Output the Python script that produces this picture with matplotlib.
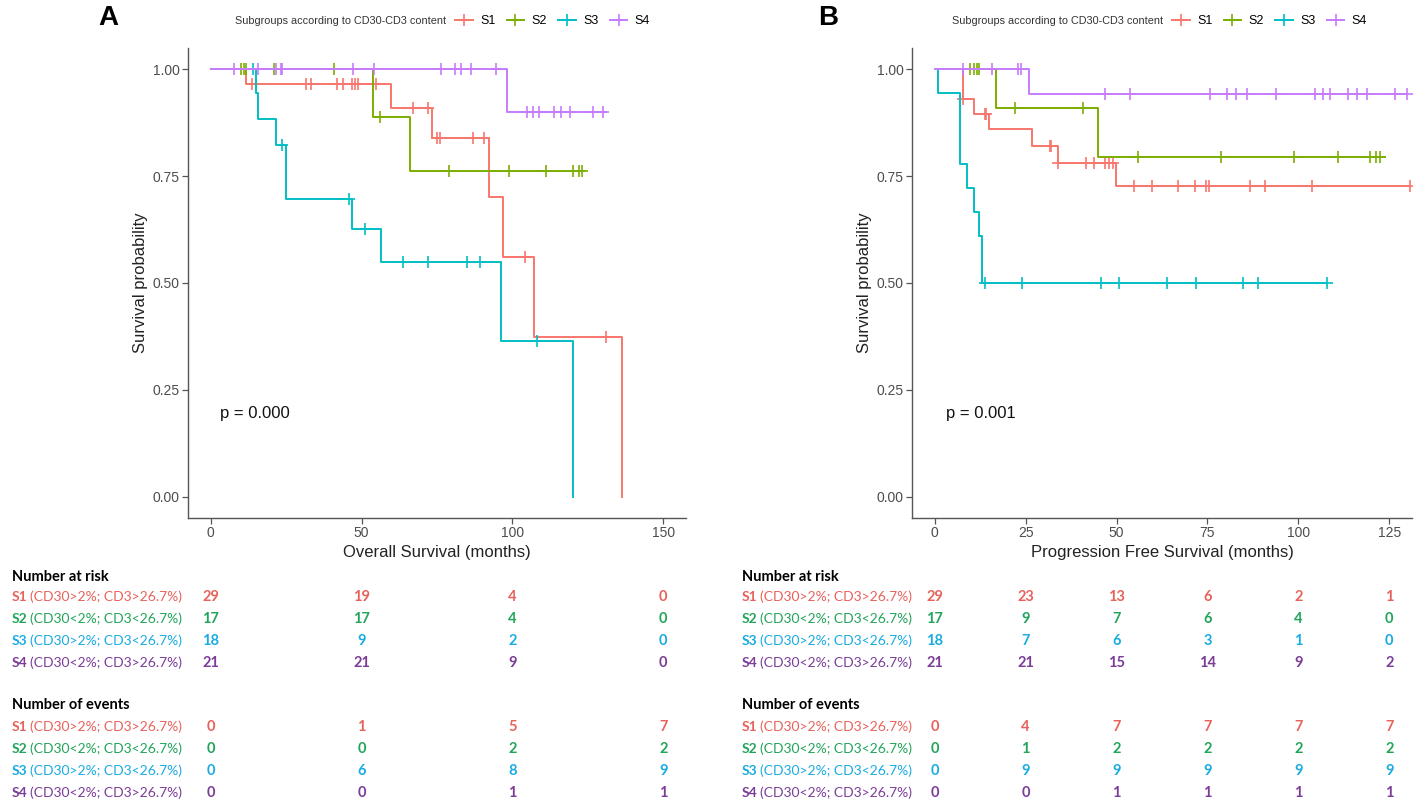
import numpy as np
import matplotlib.pyplot as plt
from matplotlib.transforms import blended_transform_factory
from matplotlib.lines import Line2D

groups = ["S1", "S2", "S3", "S4"]
row_labels = ["(CD30>2%; CD3>26.7%)", "(CD30<2%; CD3<26.7%)",
              "(CD30>2%; CD3<26.7%)", "(CD30<2%; CD3>26.7%)"]
curve_colors = ["#F8766D", "#7CAE00", "#00BFC4", "#C77CFF"]
table_colors = ["#E8625C", "#22A45A", "#1AABE2", "#7B3D98"]

# --- Panel A: overall survival (months) ---
os_event_times = [
    [11.8, 59.8, 73.3, 92.2, 97.0, 107.1, 136.3],
    [53.7, 66.2],
    [15.0, 15.8, 21.8, 25.1, 46.8, 56.3, 96.2, 120.2],
    [98.2],
]
os_surv = [
    [0.965, 0.909, 0.839, 0.702, 0.561, 0.373, 0.0],
    [0.889, 0.761],
    [0.944, 0.884, 0.824, 0.696, 0.627, 0.549, 0.365, 0.0],
    [0.900],
]
os_censor = [
    [13.7, 31.7, 33.3, 41.9, 43.8, 46.8, 47.7, 48.8, 54.9, 67.0, 72.0, 75.0,
     76.0, 86.9, 90.7, 104.2, 131.0],
    [10.2, 11.0, 11.8, 21.0, 40.8, 56.0, 79.1, 99.0, 111.2, 120.0, 122.0, 123.1],
    [14.0, 23.8, 46.0, 51.0, 63.9, 72.0, 84.9, 89.1, 108.0],
    [7.7, 15.7, 21.7, 23.2, 23.8, 47.1, 54.0, 76.4, 80.8, 83.0, 86.1, 94.4,
     104.7, 106.7, 108.9, 113.9, 116.1, 119.1, 126.8, 129.9],
]
os_end = [136.3, 123.8, 120.2, 131.0]
os_breaks = [0, 50, 100, 150]
os_at_risk = [[29, 19, 4, 0], [17, 17, 4, 0], [18, 9, 2, 0], [21, 21, 9, 0]]
os_events = [[0, 1, 5, 7], [0, 0, 2, 2], [0, 6, 8, 9], [0, 0, 1, 1]]

# --- Panel B: progression free survival (months) ---
pfs_event_times = [
    [7.8, 10.7, 15.0, 26.8, 33.9, 49.8],
    [16.9, 44.9],
    [0.9, 6.9, 8.9, 10.7, 12.1, 13.0],
    [25.8],
]
pfs_surv = [
    [0.931, 0.896, 0.860, 0.821, 0.780, 0.726],
    [0.909, 0.795],
    [0.944, 0.778, 0.722, 0.667, 0.611, 0.500],
    [0.943],
]
pfs_censor = [
    [7.9, 13.7, 14.2, 31.6, 32.1, 33.9, 41.6, 43.7, 46.7, 47.8, 48.9, 54.9,
     59.7, 66.9, 71.6, 74.6, 75.5, 86.7, 90.7, 103.8, 130.7],
    [9.8, 10.7, 11.5, 12.1, 22.0, 40.7, 55.8, 78.7, 98.8, 110.8, 119.7, 121.3, 122.4],
    [13.7, 24.0, 45.8, 50.7, 63.8, 71.8, 84.7, 88.8, 107.8],
    [7.7, 15.8, 22.8, 23.7, 46.7, 53.6, 75.7, 80.5, 82.8, 85.8, 93.8, 104.6,
     106.9, 108.7, 113.7, 116.0, 119.0, 126.6, 129.8],
]
pfs_end = [130.7, 123.9, 108.0, 129.8]
pfs_breaks = [0, 25, 50, 75, 100, 125]
pfs_at_risk = [[29, 23, 13, 6, 2, 1], [17, 9, 7, 6, 4, 0],
               [18, 7, 6, 3, 1, 0], [21, 21, 15, 14, 9, 2]]
pfs_events = [[0, 4, 7, 7, 7, 7], [0, 1, 2, 2, 2, 2],
              [0, 9, 9, 9, 9, 9], [0, 0, 1, 1, 1, 1]]

W, H = 1417, 810
fig = plt.figure(figsize=(W / 100, H / 100), dpi=100)
plt.rcParams['font.family'] = ['Liberation Sans', 'DejaVu Sans']


def fx(px):
    return px / W


def fy(py):
    return 1 - py / H


def km_panel(ax, ev_times, surv, censor, ends, breaks, xlim, xlabel, pval):
    for i in range(4):
        xs = [0] + list(ev_times[i]) + [ends[i]]
        ys = [1.0] + list(surv[i]) + [surv[i][-1]]
        ax.step(xs, ys, where='post', color=curve_colors[i], lw=1.4)
        levels = np.array([1.0] + list(surv[i]))
        idx = np.searchsorted(ev_times[i], censor[i], side='right')
        ax.plot(censor[i], levels[idx], ls='none', marker='+',
                ms=8, mew=1.2, color=curve_colors[i])
    ax.set_xlim(*xlim)
    ax.set_ylim(-0.05, 1.05)
    ax.set_xticks(breaks)
    ax.set_yticks([0, 0.25, 0.5, 0.75, 1.0])
    ax.set_yticklabels(["0.00", "0.25", "0.50", "0.75", "1.00"])
    for s in ['top', 'right']:
        ax.spines[s].set_visible(False)
    for s in ['left', 'bottom']:
        ax.spines[s].set_color('#555555')
        ax.spines[s].set_linewidth(1.0)
    ax.tick_params(colors='#555555', labelcolor='#4D4D4D', labelsize=10,
                   length=4, width=0.9, pad=2)
    ax.set_xlabel(xlabel, fontsize=12, color='#222222', labelpad=3)
    ax.set_ylabel("Survival probability", fontsize=12, color='#222222')
    ax.yaxis.set_label_coords(-0.08, 0.5)
    ax.text(3, 0.195, pval, fontsize=12, color='#111111', va='center')


def legend_row(x_title, y):
    fig.text(fx(x_title), fy(y), "Subgroups according to CD30-CD3 content",
             fontsize=7.8, color='#333333', ha='right', va='center')
    handles = [Line2D([], [], color=c, marker='+', ms=8, mew=1.2, lw=1.4)
               for c in curve_colors]
    fig.legend(handles, groups, loc='center left',
               bbox_to_anchor=(fx(x_title + 9), fy(y)), ncol=4, frameon=False,
               fontsize=9, handlelength=1.4, handletextpad=0.6,
               columnspacing=0.9, borderaxespad=0, borderpad=0)


def table(ax, x_label, breaks, at_risk, events):
    tr = blended_transform_factory(ax.transData, fig.transFigure)
    tf = ['Lato', 'DejaVu Sans']
    blocks = [("Number at risk", 577, [597, 619, 641, 663], at_risk),
              ("Number of events", 705, [727, 749, 771, 793], events)]
    for title, ty, rows, vals in blocks:
        fig.text(fx(x_label), fy(ty), title, fontsize=10.5, fontweight='bold',
                 family=tf, va='center', ha='left', color='black')
        for i in range(4):
            fig.text(fx(x_label), fy(rows[i]), groups[i], fontsize=10,
                     fontweight='bold', family=tf, va='center', ha='left',
                     color=table_colors[i])
            fig.text(fx(x_label + 18), fy(rows[i]), row_labels[i], fontsize=10,
                     family=tf, va='center', ha='left', color=table_colors[i])
            for b, v in zip(breaks, vals[i]):
                ax.text(b, fy(rows[i]), str(v), transform=tr, fontsize=10.5,
                        fontweight='bold', family=tf, va='center', ha='center',
                        color=table_colors[i])


axA = fig.add_axes([fx(188), fy(518), fx(498), 470 / H])
axB = fig.add_axes([fx(912), fy(518), fx(500), 470 / H])

km_panel(axA, os_event_times, os_surv, os_censor, os_end, os_breaks,
         (-7.5, 157.5), "Overall Survival (months)", "p = 0.000")
km_panel(axB, pfs_event_times, pfs_surv, pfs_censor, pfs_end, pfs_breaks,
         (-6.25, 131.25), "Progression Free Survival (months)", "p = 0.001")

legend_row(446, 21)
legend_row(1163, 21)

fig.text(fx(108), fy(18), "A", fontsize=20, fontweight='bold', ha='center', va='center')
fig.text(fx(828), fy(18), "B", fontsize=20, fontweight='bold', ha='center', va='center')

table(axA, 12, os_breaks, os_at_risk, os_events)
table(axB, 742, pfs_breaks, pfs_at_risk, pfs_events)

fig.savefig("out.png", dpi=100)
